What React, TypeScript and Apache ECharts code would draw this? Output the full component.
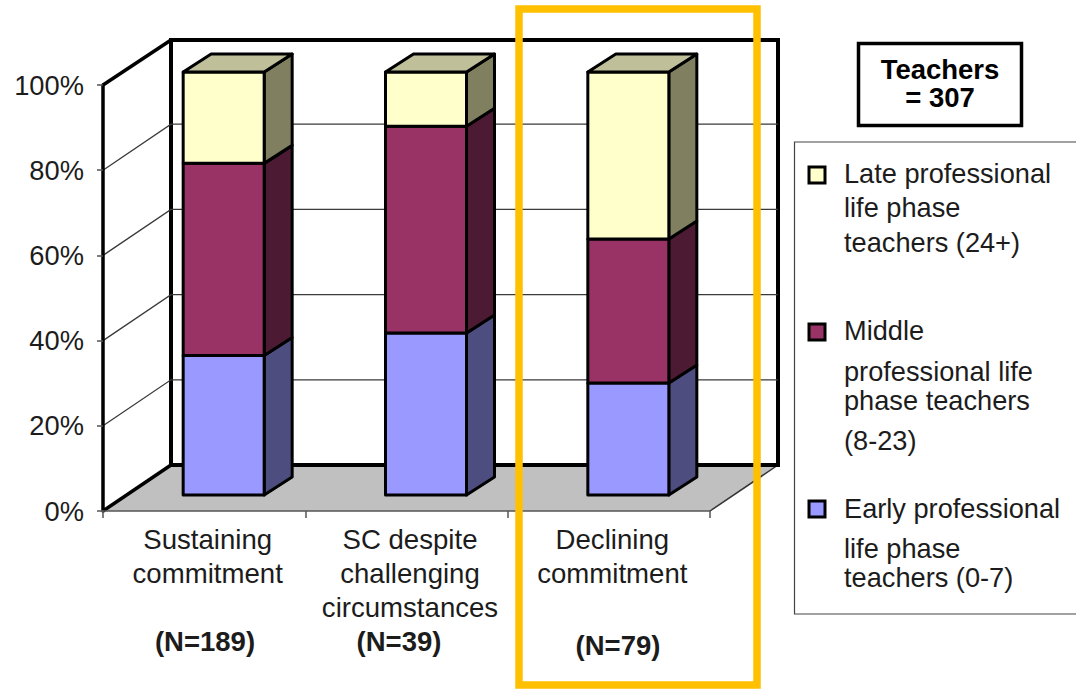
import React, { useEffect, useRef } from "react";
import * as echarts from "echarts";

const categories = ["Sustaining\ncommitment", "SC despite\nchallenging\ncircumstances", "Declining\ncommitment"];
const earlyValues = [33, 38.3, 26.5];
const middleValues = [45.4, 48.9, 34];
const lateValues = [21.6, 12.8, 39.5];
const gridTicks = [20, 40, 60, 80];
const nLabels = ["(N=189)", "(N=39)", "(N=79)"];
const FONT = "'Liberation Sans', Arial, sans-serif";
const TEXT = "#1c1c1c";

const WALL = { dx: 68, dy: -46 };
const BAR = { dx: 19.5, dy: -16, width: 81, depthX: 28, depthY: -18, scale: 423 / 426 };

function stackRender(front: string, side: string, top: string | null) {
  return (_params: any, api: any) => {
    const [cx, base] = api.coord([api.value(0), 0]);
    const py = (v: number) => base + BAR.dy - (base - api.coord([api.value(0), v])[1]) * BAR.scale;
    const y0 = py(api.value(1));
    const y1 = py(api.value(2));
    const l = cx + BAR.dx - BAR.width / 2;
    const r = l + BAR.width;
    const lineStyle = { stroke: "#000", lineWidth: 3, lineJoin: "round" };
    const children: any[] = [
      {
        type: "polygon",
        shape: { points: [[r, y0], [r + BAR.depthX, y0 + BAR.depthY], [r + BAR.depthX, y1 + BAR.depthY], [r, y1]] },
        style: { fill: side, ...lineStyle },
      },
      { type: "rect", shape: { x: l, y: y1, width: BAR.width, height: y0 - y1 }, style: { fill: front, ...lineStyle } },
    ];
    if (top) {
      children.push({
        type: "polygon",
        shape: { points: [[l, y1], [l + BAR.depthX, y1 + BAR.depthY], [r + BAR.depthX, y1 + BAR.depthY], [r, y1]] },
        style: { fill: top, ...lineStyle },
      });
    }
    return { type: "group", children };
  };
}

const floorRender = (params: any) => {
  const c = params.coordSys;
  const b = c.y + c.height;
  return {
    type: "group",
    children: [
      {
        type: "polygon",
        shape: { points: [[c.x, b], [c.x + WALL.dx, b + WALL.dy], [c.x + c.width + WALL.dx, b + WALL.dy], [c.x + c.width, b]] },
        style: { fill: "#C0C0C0", stroke: "none" },
      },
      {
        type: "line",
        shape: { x1: c.x + c.width, y1: b, x2: c.x + c.width + WALL.dx, y2: b + WALL.dy },
        style: { stroke: "#333", lineWidth: 1.5 },
      },
      {
        type: "rect",
        shape: { x: c.x + WALL.dx, y: c.y + WALL.dy + 1, width: c.width, height: c.height - 1 },
        style: { fill: "none", stroke: "#000", lineWidth: 4 },
      },
      {
        type: "line",
        shape: { x1: c.x, y1: c.y, x2: c.x + WALL.dx, y2: c.y + WALL.dy + 1 },
        style: { stroke: "#000", lineWidth: 3.5 },
      },
      {
        type: "line",
        shape: { x1: c.x, y1: b, x2: c.x + WALL.dx, y2: b + WALL.dy },
        style: { stroke: "#000", lineWidth: 3.5 },
      },
    ],
  };
};

const gridRender = (params: any, api: any) => {
  const c = params.coordSys;
  const y = api.coord([0, api.value(1)])[1];
  return {
    type: "polyline",
    shape: { points: [[c.x, y], [c.x + WALL.dx, y + WALL.dy], [c.x + c.width + WALL.dx, y + WALL.dy]] },
    style: { fill: "none", stroke: "#3a3a3a", lineWidth: 1.3 },
  };
};

const txt = (text: string, x: number, y: number, extra: any = {}) => ({
  type: "text",
  x,
  y: y - 1,
  z: 20,
  style: { text, fontFamily: FONT, fontSize: 27.2, fill: TEXT, textVerticalAlign: "middle", verticalAlign: "middle", ...extra },
});

const marker = (y: number, fill: string) => ({
  type: "rect",
  z: 20,
  shape: { x: 809, y, width: 16, height: 16 },
  style: { fill, stroke: "#000", lineWidth: 3 },
});

function buildSeries() {
  const early = earlyValues.map((v, i) => [i, 0, v]);
  const middle = middleValues.map((v, i) => [i, earlyValues[i], earlyValues[i] + v]);
  const late = lateValues.map((v, i) => [i, earlyValues[i] + middleValues[i], earlyValues[i] + middleValues[i] + v]);
  const enc = { x: 0, y: [1, 2] };
  return [
    { type: "custom", name: "walls", z: 1, renderItem: floorRender, data: [[0, 0]], encode: { x: 0, y: 1 }, silent: true },
    { type: "custom", name: "grid", z: 1, renderItem: gridRender, data: gridTicks.map((t) => [0, t]), encode: { x: 0, y: 1 }, silent: true },
    { type: "custom", name: "Early professional life phase teachers (0-7)", z: 3, renderItem: stackRender("#9999FF", "#4D4D80", null), data: early, encode: enc },
    { type: "custom", name: "Middle professional life phase teachers (8-23)", z: 4, renderItem: stackRender("#993366", "#4D1A33", null), data: middle, encode: enc },
    { type: "custom", name: "Late professional life phase teachers (24+)", z: 5, renderItem: stackRender("#FFFFCC", "#808060", "#BFBF99"), data: late, encode: enc },
  ];
}

export default function App() {
  const ref = useRef<HTMLDivElement>(null);
  useEffect(() => {
    document.body.style.margin = "0";
    document.body.style.background = "#fff";
    const chart = echarts.init(ref.current!, undefined, { renderer: "svg" });
    chart.setOption({
      animation: false,
      backgroundColor: "#fff",
      grid: { left: 103, top: 85, width: 607, height: 426, containLabel: false },
      xAxis: {
        type: "category",
        data: categories,
        z: 6,
        axisLine: { lineStyle: { color: "#555", width: 1.5 } },
        axisTick: { show: true, length: 7, lineStyle: { color: "#555", width: 1.5 } },
        axisLabel: { fontFamily: FONT, fontSize: 27.6, color: TEXT, lineHeight: 34, margin: 11, interval: 0, padding: [0, 0, 0, 7] },
      },
      yAxis: {
        type: "value",
        min: 0,
        max: 100,
        interval: 20,
        z: 6,
        splitLine: { show: false },
        axisLine: { show: true, lineStyle: { color: "#000", width: 3.5 } },
        axisTick: { show: true, length: 6, lineStyle: { color: "#555", width: 1.5 } },
        axisLabel: { formatter: "{value}%", fontFamily: FONT, fontSize: 27.3, color: TEXT, margin: 19 },
      },
      series: buildSeries(),
      graphic: [
        { type: "rect", z: 30, shape: { x: 519, y: 9, width: 238, height: 676 }, style: { fill: "none", stroke: "#FFC000", lineWidth: 7.5 } },
        { type: "rect", z: 20, shape: { x: 858.5, y: 43.5, width: 163, height: 82 }, style: { fill: "#fff", stroke: "#000", lineWidth: 3.5 } },
        txt("Teachers", 940, 70, { fontWeight: "bold", fontSize: 27.5, textAlign: "center", fill: "#000" }),
        txt("= 307", 940, 98, { fontWeight: "bold", fontSize: 27.5, textAlign: "center", fill: "#000" }),
        { type: "rect", z: 19, shape: { x: 794.5, y: 142, width: 290, height: 472 }, style: { fill: "#fff", stroke: "#444", lineWidth: 1.2 } },
        marker(167, "#FFFFCC"),
        txt("Late professional", 844, 174),
        txt("life phase", 844, 208),
        txt("teachers (24+)", 844, 243),
        marker(324, "#993366"),
        txt("Middle", 844, 331),
        txt("professional life", 844, 372),
        txt("phase teachers", 844, 401),
        txt("(8-23)", 844, 441),
        marker(501, "#9999FF"),
        txt("Early professional", 844, 509),
        txt("life phase", 844, 549),
        txt("teachers (0-7)", 844, 578),
        txt(nLabels[0], 205, 642, { fontWeight: "bold", fontSize: 27.5, textAlign: "center" }),
        txt(nLabels[1], 399, 642, { fontWeight: "bold", fontSize: 27.5, textAlign: "center" }),
        txt(nLabels[2], 618, 646, { fontWeight: "bold", fontSize: 27.5, textAlign: "center" }),
      ],
    });
    return () => chart.dispose();
  }, []);
  return <div ref={ref} style={{ width: 1076, height: 689 }} />;
}
